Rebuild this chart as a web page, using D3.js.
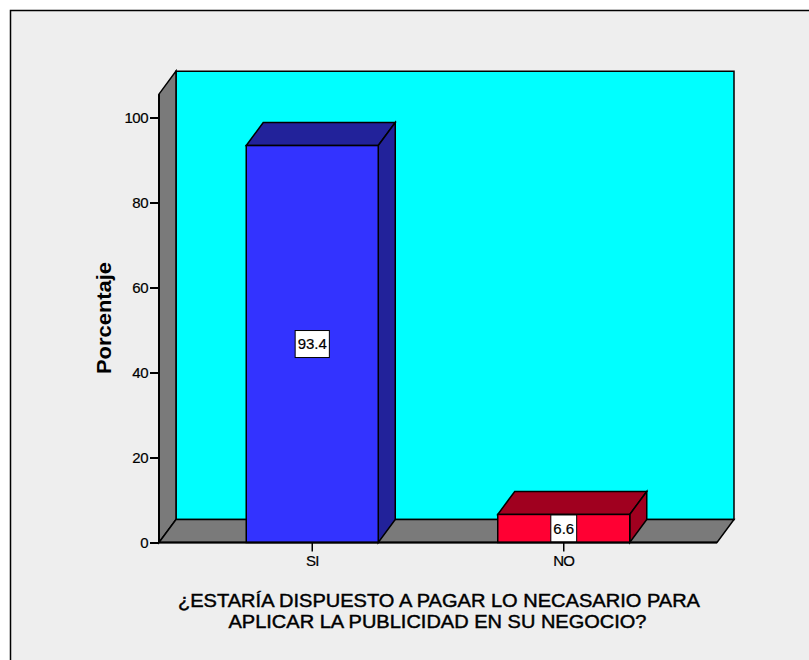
<!DOCTYPE html>
<html>
<head>
<meta charset="utf-8">
<script src="https://cdn.jsdelivr.net/npm/d3@7"></script>
<style>
  body { margin: 0; background: #ffffff; }
  text { font-family: "Liberation Sans", Arial, Helvetica, sans-serif; fill: #000; }
</style>
</head>
<body>
<svg id="chart" width="809" height="660"></svg>
<script>
// Data
const categories = ["SI", "NO"];
const percentages = [93.4, 6.6];
const yTicks = [0, 20, 40, 60, 80, 100];
const yMax = 105.5;
const yTitle = "Porcentaje";
const xTitleLines = [
  "¿ESTARÍA DISPUESTO A PAGAR LO NECASARIO PARA",
  "APLICAR LA PUBLICIDAD EN SU NEGOCIO?"
];
const frontColors = ["#3333ff", "#ff0033"];
const shadeColors = ["#22229a", "#a0001f"];

// Layout
const left = 159, right = 717, base = 542.5;
const depthX = 17, depthY = -23;

const svg = d3.select("#chart");

// Panel background and frame
svg.append("rect")
  .attr("x", 10.5).attr("y", 10.5)
  .attr("width", 820).attr("height", 680)
  .attr("fill", "#eeeeee").attr("stroke", "#000").attr("stroke-width", 1.5);

const y = d3.scaleLinear().domain([0, 100]).range([base, 117.5]);
const x = d3.scaleBand().domain(categories).range([left, right])
  .paddingInner(0.4751).paddingOuter(0.3469);

const topY = y(yMax);
const line = d3.line();

// Back wall
svg.append("path")
  .attr("d", line([[left + depthX, topY + depthY], [right + depthX, topY + depthY],
                   [right + depthX, base + depthY], [left + depthX, base + depthY]]) + "Z")
  .attr("fill", "#00ffff").attr("stroke", "#000").attr("stroke-width", 1.5);

// Side wall
svg.append("path")
  .attr("d", line([[left, topY], [left + depthX, topY + depthY],
                   [left + depthX, base + depthY], [left, base]]) + "Z")
  .attr("fill", "#7a7a7a").attr("stroke", "#000").attr("stroke-width", 1.5);

// Floor
svg.append("path")
  .attr("d", line([[left, base], [left + depthX, base + depthY],
                   [right + depthX, base + depthY], [right, base]]) + "Z")
  .attr("fill", "#7a7a7a").attr("stroke", "#000").attr("stroke-width", 1.5);

// Bars
const bars = svg.append("g").selectAll("g")
  .data(categories.map((c, i) => ({ c, v: percentages[i], i })))
  .join("g");

bars.each(function (d) {
  const g = d3.select(this);
  const x0 = x(d.c), w = x.bandwidth(), yv = y(d.v);
  // top face
  g.append("path")
    .attr("d", line([[x0, yv], [x0 + depthX, yv + depthY], [x0 + w + depthX, yv + depthY], [x0 + w, yv]]) + "Z")
    .attr("fill", shadeColors[d.i]).attr("stroke", "#000").attr("stroke-width", 1.5);
  // side face
  g.append("path")
    .attr("d", line([[x0 + w, yv], [x0 + w + depthX, yv + depthY], [x0 + w + depthX, base + depthY], [x0 + w, base]]) + "Z")
    .attr("fill", shadeColors[d.i]).attr("stroke", "#000").attr("stroke-width", 1.5);
  // front face
  g.append("rect")
    .attr("x", x0).attr("y", yv).attr("width", w).attr("height", base - yv)
    .attr("fill", frontColors[d.i]).attr("stroke", "#000").attr("stroke-width", 1.5);
});

// Front base line and axis edge
svg.append("line")
  .attr("x1", left).attr("x2", right).attr("y1", base).attr("y2", base)
  .attr("stroke", "#000").attr("stroke-width", 2);
svg.append("line")
  .attr("x1", left).attr("x2", left).attr("y1", topY).attr("y2", base)
  .attr("stroke", "#000").attr("stroke-width", 2);

// Value labels
bars.each(function (d) {
  const g = d3.select(this);
  const cx = x(d.c) + x.bandwidth() / 2;
  const cy = (y(d.v) + base) / 2;
  const box = g.append("rect").attr("fill", "#fff").attr("stroke", "#000").attr("stroke-width", 1);
  const t = g.append("text")
    .attr("x", cx).attr("y", cy).attr("dy", "0.36em")
    .attr("text-anchor", "middle").style("font-size", "15px")
    .attr("stroke", "#000").attr("stroke-width", 0.2)
    .text(d.v.toFixed(1));
  const tw = t.node().getComputedTextLength() + 5;
  box.attr("x", cx - tw / 2).attr("y", cy - 13.5).attr("width", tw).attr("height", 27);
});

// Y axis
const yAxis = svg.append("g")
  .attr("transform", `translate(${left},0)`)
  .call(d3.axisLeft(y).tickValues(yTicks).tickSize(9).tickSizeOuter(0).tickPadding(2));
yAxis.select(".domain").remove();
yAxis.selectAll(".tick line").attr("stroke", "#000").attr("stroke-width", 2);
yAxis.selectAll(".tick text")
  .style("font-size", "15px").style("letter-spacing", "-0.5px")
  .style("font-family", "'Liberation Sans', Arial, sans-serif")
  .attr("fill", "#000").attr("stroke", "#000").attr("stroke-width", 0.2);

// X axis
const xAxis = svg.append("g")
  .attr("transform", `translate(0,${base})`)
  .call(d3.axisBottom(x).tickSize(9).tickSizeOuter(0).tickPadding(4));
xAxis.select(".domain").remove();
xAxis.selectAll(".tick line").attr("stroke", "#000").attr("stroke-width", 1.5);
xAxis.selectAll(".tick text")
  .style("font-size", "15px").style("letter-spacing", "-0.8px")
  .style("font-family", "'Liberation Sans', Arial, sans-serif")
  .attr("fill", "#000").attr("stroke", "#000").attr("stroke-width", 0.2);

// Y title
svg.append("text")
  .attr("transform", "translate(111,318) rotate(-90)")
  .attr("text-anchor", "middle")
  .style("font-size", "20px").style("font-weight", "bold")
  .attr("textLength", 112).attr("lengthAdjust", "spacingAndGlyphs")
  .text(yTitle);

// X title
const xTitle = svg.append("text").attr("text-anchor", "middle").style("font-size", "19px")
  .attr("stroke", "#000").attr("stroke-width", 0.45);
xTitle.append("tspan").attr("x", 439).attr("y", 607)
  .attr("textLength", 522).attr("lengthAdjust", "spacingAndGlyphs").text(xTitleLines[0]);
xTitle.append("tspan").attr("x", 437.5).attr("y", 628)
  .attr("textLength", 418).attr("lengthAdjust", "spacingAndGlyphs").text(xTitleLines[1]);
</script>
</body>
</html>
